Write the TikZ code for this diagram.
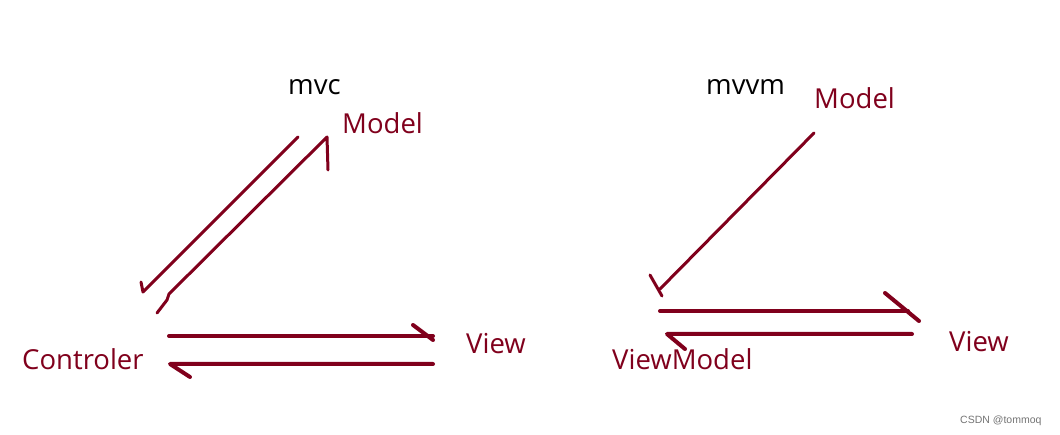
\documentclass[tikz,border=0pt]{standalone}
\usepackage{fontspec}
\setmainfont{Open Sans}
\newfontfamily\wmfont{Liberation Sans}
\definecolor{mred}{RGB}{128,0,28}
\begin{document}
\begin{tikzpicture}[x=1pt,y=-1pt,
  thinstroke/.style={draw=mred,line width=3pt,line cap=round,line join=round},
  thickstroke/.style={draw=mred,line width=4pt,line cap=round,line join=round},
  lbl/.style={text=mred,font=\fontsize{27.5}{30}\selectfont,inner sep=0pt,anchor=base west},
  ttl/.style={text=black,font=\fontsize{27.5}{30}\selectfont,inner sep=0pt,anchor=base west},
  wm/.style={text=black!55,font=\wmfont\fontsize{10.5}{12}\selectfont,inner sep=0pt,anchor=base west}]
\useasboundingbox (0,0) rectangle (1060,435);
% labels
\node[ttl] (mvc) at (288,95) {mvc};
\node[lbl] (modelL) at (342,134) {Model};
\node[lbl] (viewL) at (466,354) {View};
\node[lbl] (ctrl) at (22,370) {Controler};
\node[ttl] (mvvm) at (706,95) {mvvm};
\node[lbl] (modelR) at (814,109) {Model};
\node[lbl] (viewR) at (949,352) {View};
\node[lbl] (vm) at (612,370) {ViewModel};
\node[wm] (wm) at (960,424) {CSDN @tommoq};
% left diagram coordinates
\coordinate (a1s) at (298,137);
\coordinate (a1e) at (143,292);
\coordinate (a1t) at (141,282);
\coordinate (b1) at (328,170);
\coordinate (b2) at (327,137);
\coordinate (b3) at (169,294);
\coordinate (b4) at (167,300);
\coordinate (b5) at (157,313);
\coordinate (c1s) at (169,336);
\coordinate (c1e) at (433,336);
\coordinate (c1h) at (413,325);
\coordinate (c1t) at (433,340);
\coordinate (d1s) at (433,364);
\coordinate (d1e) at (170,364);
\coordinate (d1h) at (190,377);
% right diagram coordinates
\coordinate (e1s) at (814,133);
\coordinate (e1e) at (660,289);
\coordinate (e1a) at (650,275);
\coordinate (e1b) at (662,296);
\coordinate (f1s) at (660,311);
\coordinate (f1e) at (908,311);
\coordinate (f1h) at (885,293);
\coordinate (f1t) at (919,321);
\coordinate (g1s) at (912,334);
\coordinate (g1e) at (667,334);
\coordinate (g1h) at (685,349);
% left connectors
\draw[thinstroke] (a1s) -- (a1e) -- (a1t);
\draw[thinstroke] (b1) -- (b2) -- (b3) -- (b4) -- (b5);
\draw[thickstroke] (c1s) -- (c1e);
\draw[thickstroke] (c1h) -- (c1t);
\draw[thickstroke] (d1s) -- (d1e) -- (d1h);
% right connectors
\draw[thinstroke] (e1s) -- (e1e);
\draw[thinstroke] (e1a) -- (e1b);
\draw[thickstroke] (f1s) -- (f1e);
\draw[thickstroke] (f1h) -- (f1t);
\draw[thickstroke] (g1s) -- (g1e) -- (g1h);
\end{tikzpicture}
\end{document}
